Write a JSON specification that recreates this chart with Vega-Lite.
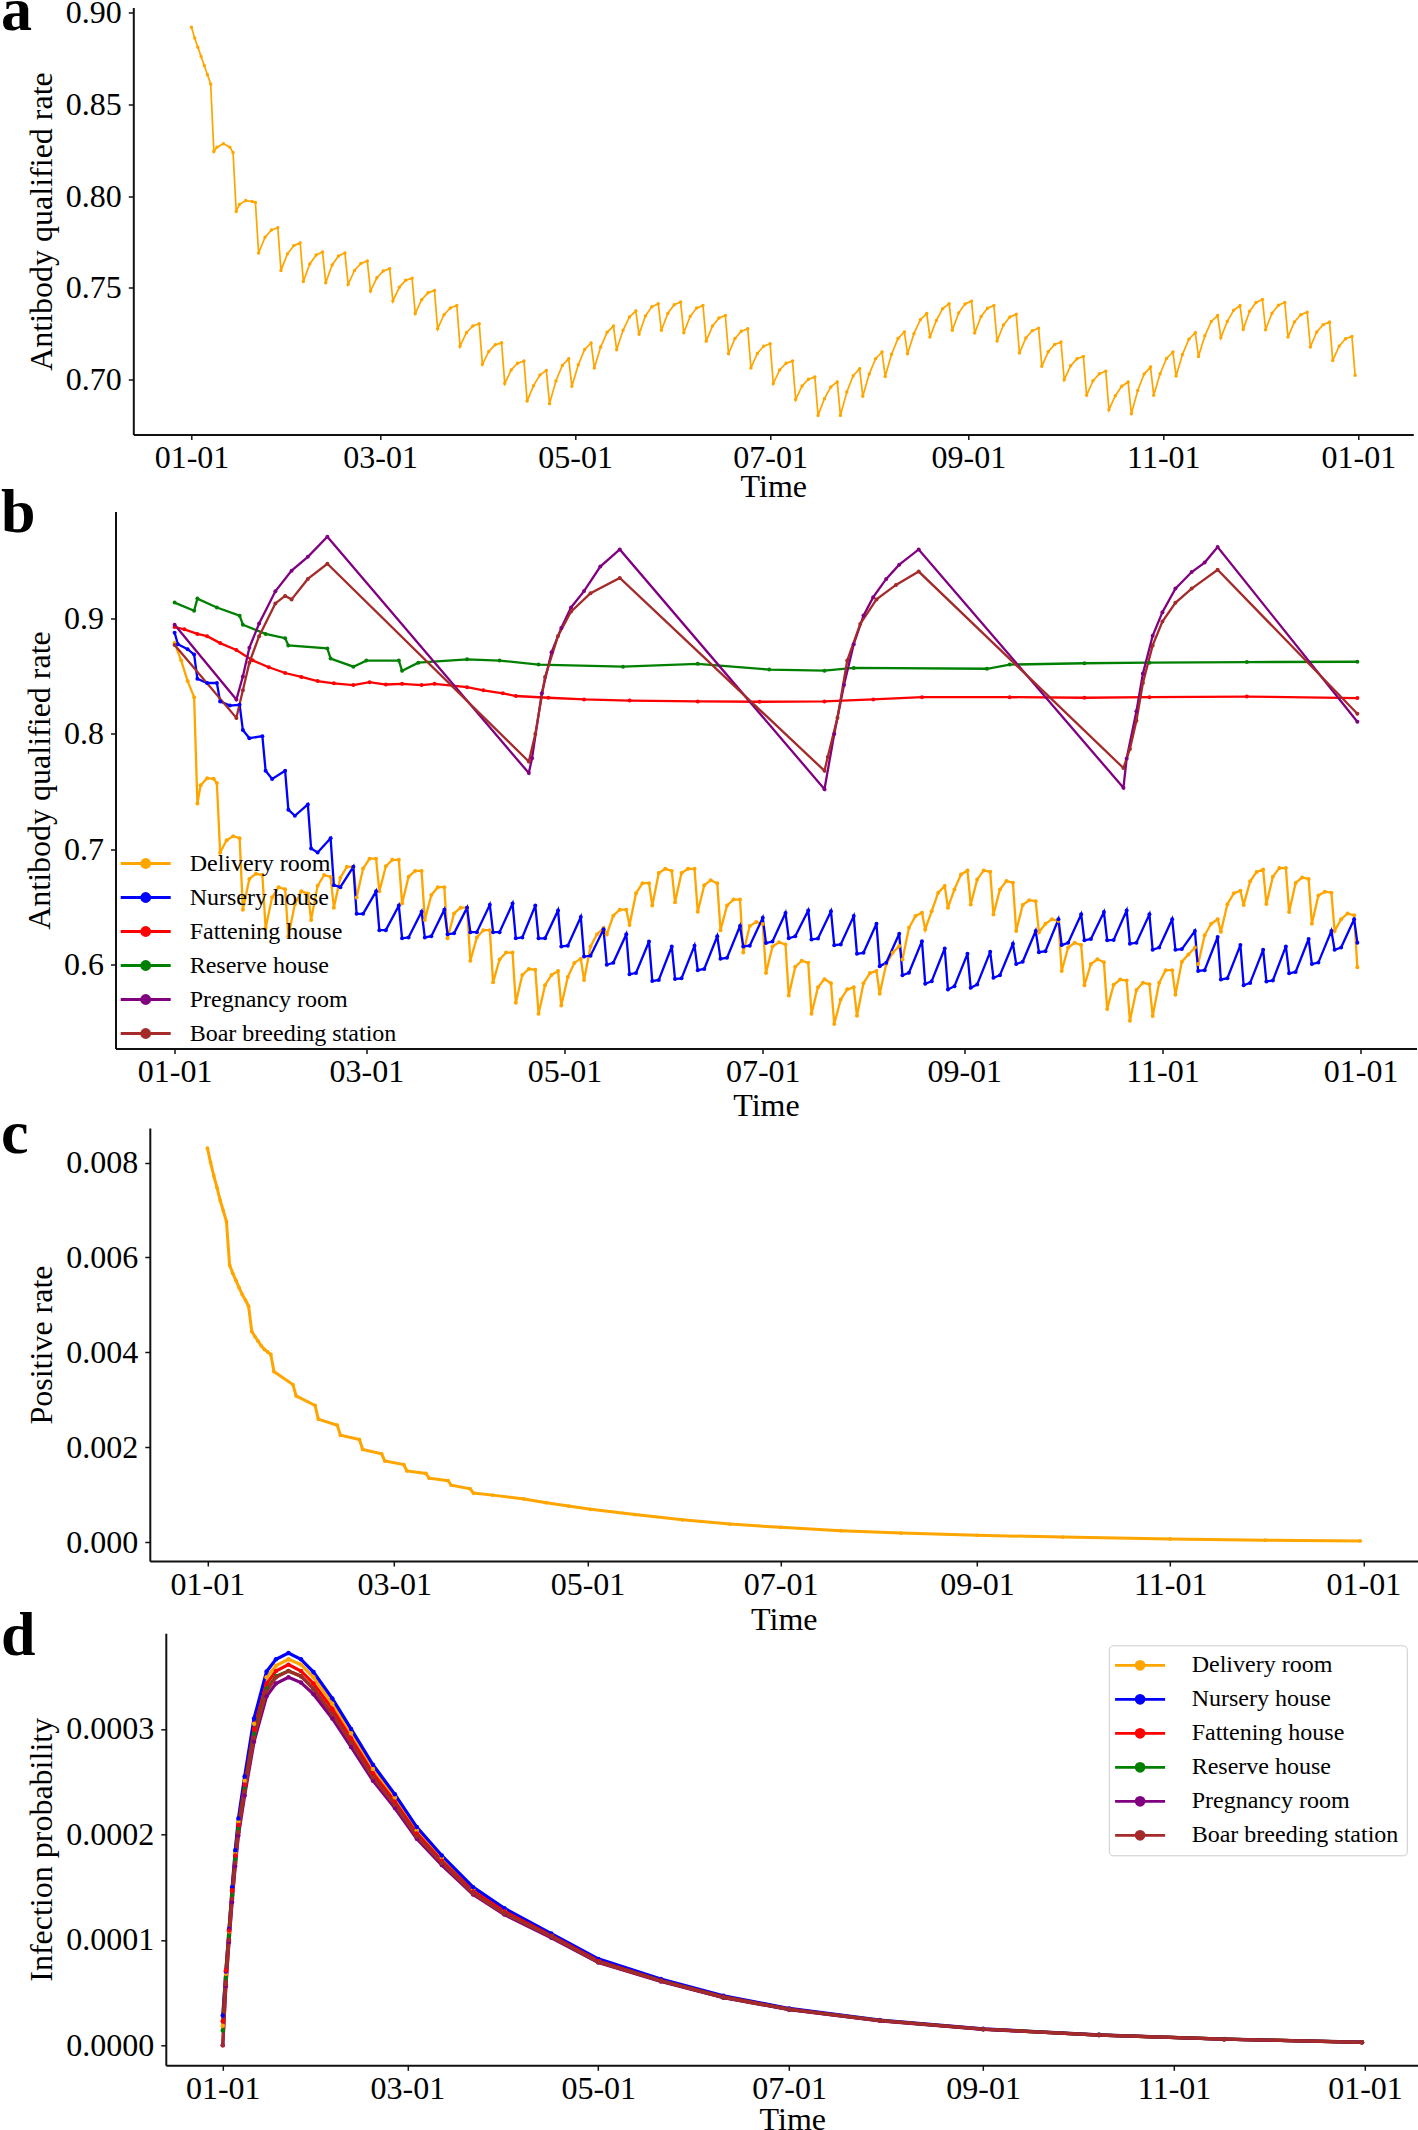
{
"$schema":"https://vega.github.io/schema/vega-lite/v6.json",
"padding":{"left":0,"top":-20.5,"right":0,"bottom":0},
"background":"white",
"config":{
"font":"Liberation Serif",
"view":{"stroke":null},
"axis":{"labelFont":"Liberation Serif","titleFont":"Liberation Serif","labelFontSize":32,"titleFontSize":32,"titleFontWeight":"normal","labelColor":"#000","titleColor":"#000","domainColor":"#111","domainWidth":2,"tickColor":"#111","tickWidth":1.5,"tickSize":5,"grid":false},
"axisX":{"labelPadding":3,"labelAngle":0,"labelFlush":false,"labelOverlap":false},
"axisY":{"labelPadding":7,"titlePadding":7}
},
"datasets":{
"a":[{"t":0,"v":0.8918},{"t":1,"v":0.886},{"t":2,"v":0.881},{"t":3,"v":0.876},{"t":4,"v":0.871},{"t":5,"v":0.866},{"t":6,"v":0.861},
{"t":7,"v":0.8242},{"t":8,"v":0.8266},{"t":10,"v":0.8284},{"t":12,"v":0.8266},{"t":13,"v":0.8237},
{"t":14,"v":0.7916},{"t":15,"v":0.7954},{"t":17,"v":0.7975},{"t":19,"v":0.797},{"t":20,"v":0.7965},
{"t":21,"v":0.769},{"t":23,"v":0.7775},{"t":25,"v":0.7815},{"t":27,"v":0.7828},
{"t":28,"v":0.7595},{"t":30,"v":0.7685},{"t":32,"v":0.773},{"t":34,"v":0.7745},
{"t":35,"v":0.7535},{"t":37,"v":0.763},{"t":39,"v":0.7679},{"t":41,"v":0.7695},
{"t":42,"v":0.7528},{"t":44,"v":0.7625},{"t":46,"v":0.7674},{"t":48,"v":0.769},
{"t":49,"v":0.7519},{"t":51,"v":0.7595},{"t":53,"v":0.7633},{"t":55,"v":0.7646},
{"t":56,"v":0.7483},{"t":58,"v":0.7555},{"t":60,"v":0.7592},{"t":62,"v":0.7604},
{"t":63,"v":0.7428},{"t":65,"v":0.7503},{"t":67,"v":0.7541},{"t":69,"v":0.7553},
{"t":70,"v":0.736},{"t":72,"v":0.7436},{"t":74,"v":0.7473},{"t":76,"v":0.7486},
{"t":77,"v":0.7278},{"t":79,"v":0.7354},{"t":81,"v":0.7391},{"t":83,"v":0.7404},
{"t":84,"v":0.7182},{"t":86,"v":0.7256},{"t":88,"v":0.7293},{"t":90,"v":0.7305},
{"t":91,"v":0.7084},{"t":93,"v":0.7154},{"t":95,"v":0.719},{"t":97,"v":0.7201},
{"t":98,"v":0.6979},{"t":100,"v":0.7053},{"t":102,"v":0.709},{"t":104,"v":0.7102},
{"t":105,"v":0.6884},{"t":107,"v":0.6968},{"t":109,"v":0.7026},{"t":111,"v":0.7051},
{"t":112,"v":0.687},{"t":114,"v":0.6993},{"t":116,"v":0.7078},{"t":118,"v":0.7115},
{"t":119,"v":0.6964},{"t":121,"v":0.7082},{"t":123,"v":0.7165},{"t":125,"v":0.72},
{"t":126,"v":0.7064},{"t":128,"v":0.7178},{"t":130,"v":0.7258},{"t":132,"v":0.7292},
{"t":133,"v":0.7163},{"t":135,"v":0.7269},{"t":137,"v":0.7342},{"t":139,"v":0.7374},
{"t":140,"v":0.7247},{"t":142,"v":0.7347},{"t":144,"v":0.7397},{"t":146,"v":0.7414},
{"t":147,"v":0.7269},{"t":149,"v":0.7361},{"t":151,"v":0.7408},{"t":153,"v":0.7423},
{"t":154,"v":0.7256},{"t":156,"v":0.7345},{"t":158,"v":0.739},{"t":160,"v":0.7404},
{"t":161,"v":0.7209},{"t":163,"v":0.7293},{"t":165,"v":0.7336},{"t":167,"v":0.735},
{"t":168,"v":0.7142},{"t":170,"v":0.7224},{"t":172,"v":0.7264},{"t":174,"v":0.7278},
{"t":175,"v":0.7064},{"t":177,"v":0.7143},{"t":179,"v":0.7183},{"t":181,"v":0.7196},
{"t":182,"v":0.6979},{"t":184,"v":0.7053},{"t":186,"v":0.709},{"t":188,"v":0.7102},
{"t":189,"v":0.6892},{"t":191,"v":0.6966},{"t":193,"v":0.7003},{"t":195,"v":0.7015},
{"t":196,"v":0.6806},{"t":198,"v":0.6897},{"t":200,"v":0.6961},{"t":202,"v":0.6988},
{"t":203,"v":0.6806},{"t":205,"v":0.6933},{"t":207,"v":0.7022},{"t":209,"v":0.706},
{"t":210,"v":0.691},{"t":212,"v":0.7031},{"t":214,"v":0.7115},{"t":216,"v":0.7151},
{"t":217,"v":0.7018},{"t":219,"v":0.7139},{"t":221,"v":0.7224},{"t":223,"v":0.726},
{"t":224,"v":0.7142},{"t":226,"v":0.7251},{"t":228,"v":0.7327},{"t":230,"v":0.736},
{"t":231,"v":0.7232},{"t":233,"v":0.7323},{"t":235,"v":0.7387},{"t":237,"v":0.7414},
{"t":238,"v":0.7269},{"t":240,"v":0.7364},{"t":242,"v":0.7412},{"t":244,"v":0.7428},
{"t":245,"v":0.7254},{"t":247,"v":0.7344},{"t":249,"v":0.7389},{"t":251,"v":0.7404},
{"t":252,"v":0.7211},{"t":254,"v":0.7298},{"t":256,"v":0.7342},{"t":258,"v":0.7356},
{"t":259,"v":0.7145},{"t":261,"v":0.7227},{"t":263,"v":0.7267},{"t":265,"v":0.7281},
{"t":266,"v":0.7073},{"t":268,"v":0.7152},{"t":270,"v":0.7192},{"t":272,"v":0.7205},
{"t":273,"v":0.70},{"t":275,"v":0.7076},{"t":277,"v":0.7114},{"t":279,"v":0.7127},
{"t":280,"v":0.6915},{"t":282,"v":0.6994},{"t":284,"v":0.7033},{"t":286,"v":0.7046},
{"t":287,"v":0.6837},{"t":289,"v":0.6913},{"t":291,"v":0.6965},{"t":293,"v":0.6988},
{"t":294,"v":0.6815},{"t":296,"v":0.6942},{"t":298,"v":0.7031},{"t":300,"v":0.7069},
{"t":301,"v":0.6915},{"t":303,"v":0.7033},{"t":305,"v":0.7116},{"t":307,"v":0.7151},
{"t":308,"v":0.702},{"t":310,"v":0.7138},{"t":312,"v":0.7221},{"t":314,"v":0.7256},
{"t":315,"v":0.7127},{"t":317,"v":0.7239},{"t":319,"v":0.7317},{"t":321,"v":0.735},
{"t":322,"v":0.7229},{"t":324,"v":0.7317},{"t":326,"v":0.7378},{"t":328,"v":0.7404},
{"t":329,"v":0.7274},{"t":331,"v":0.7373},{"t":333,"v":0.7421},{"t":335,"v":0.7437},
{"t":336,"v":0.7272},{"t":338,"v":0.7362},{"t":340,"v":0.7406},{"t":342,"v":0.7421},
{"t":343,"v":0.7232},{"t":345,"v":0.7314},{"t":347,"v":0.7354},{"t":349,"v":0.7368},
{"t":350,"v":0.7178},{"t":352,"v":0.726},{"t":354,"v":0.73},{"t":356,"v":0.7314},
{"t":357,"v":0.7105},{"t":359,"v":0.7183},{"t":361,"v":0.7223},{"t":363,"v":0.7236},
{"t":364,"v":0.7024}],
"b":[
{"s":"D","t":0,"v":0.879},{"s":"D","t":2,"v":0.864},{"s":"D","t":4,"v":0.846},{"s":"D","t":6,"v":0.832},
{"s":"D","t":7,"v":0.7396},{"s":"D","t":8,"v":0.7555},{"s":"D","t":10,"v":0.7616},{"s":"D","t":12,"v":0.761},{"s":"D","t":13,"v":0.7573},
{"s":"D","t":14,"v":0.697},{"s":"D","t":16,"v":0.7076},{"s":"D","t":18,"v":0.7112},{"s":"D","t":20,"v":0.7094},
{"s":"D","t":21,"v":0.6473},{"s":"D","t":23,"v":0.674},{"s":"D","t":25,"v":0.6785},{"s":"D","t":27,"v":0.6774},
{"s":"D","t":28,"v":0.6313},{"s":"D","t":30,"v":0.658},{"s":"D","t":32,"v":0.6668},{"s":"D","t":34,"v":0.665},
{"s":"D","t":35,"v":0.6242},{"s":"D","t":37,"v":0.652},{"s":"D","t":39,"v":0.6632},{"s":"D","t":41,"v":0.6614},
{"s":"D","t":42,"v":0.6384},{"s":"D","t":44,"v":0.668},{"s":"D","t":46,"v":0.6774},{"s":"D","t":48,"v":0.6757},
{"s":"D","t":49,"v":0.649},{"s":"D","t":51,"v":0.675},{"s":"D","t":53,"v":0.6845},{"s":"D","t":55,"v":0.6845},
{"s":"D","t":56,"v":0.6579},{"s":"D","t":58,"v":0.683},{"s":"D","t":60,"v":0.6916},{"s":"D","t":62,"v":0.6916},
{"s":"D","t":63,"v":0.6632},{"s":"D","t":65,"v":0.685},{"s":"D","t":67,"v":0.6906},{"s":"D","t":69,"v":0.6906},
{"s":"D","t":70,"v":0.6526},{"s":"D","t":72,"v":0.676},{"s":"D","t":74,"v":0.681},{"s":"D","t":76,"v":0.681},
{"s":"D","t":77,"v":0.6384},{"s":"D","t":79,"v":0.66},{"s":"D","t":81,"v":0.6668},{"s":"D","t":83,"v":0.6668},
{"s":"D","t":84,"v":0.6224},{"s":"D","t":86,"v":0.644},{"s":"D","t":88,"v":0.649},{"s":"D","t":90,"v":0.649},
{"s":"D","t":91,"v":0.6029},{"s":"D","t":93,"v":0.623},{"s":"D","t":95,"v":0.6295},{"s":"D","t":97,"v":0.6295},
{"s":"D","t":98,"v":0.5841},{"s":"D","t":100,"v":0.604},{"s":"D","t":102,"v":0.61},{"s":"D","t":104,"v":0.61},
{"s":"D","t":105,"v":0.5663},{"s":"D","t":107,"v":0.5905},{"s":"D","t":109,"v":0.5958},{"s":"D","t":111,"v":0.595},
{"s":"D","t":112,"v":0.5568},{"s":"D","t":114,"v":0.5816},{"s":"D","t":116,"v":0.5905},{"s":"D","t":118,"v":0.594},
{"s":"D","t":119,"v":0.5639},{"s":"D","t":121,"v":0.5887},{"s":"D","t":123,"v":0.601},{"s":"D","t":125,"v":0.6047},
{"s":"D","t":126,"v":0.5862},{"s":"D","t":128,"v":0.6153},{"s":"D","t":130,"v":0.6259},{"s":"D","t":132,"v":0.6313},
{"s":"D","t":133,"v":0.6259},{"s":"D","t":135,"v":0.642},{"s":"D","t":137,"v":0.6473},{"s":"D","t":139,"v":0.6473},
{"s":"D","t":140,"v":0.634},{"s":"D","t":142,"v":0.6615},{"s":"D","t":144,"v":0.6703},{"s":"D","t":146,"v":0.6703},
{"s":"D","t":147,"v":0.6508},{"s":"D","t":149,"v":0.6792},{"s":"D","t":151,"v":0.6828},{"s":"D","t":153,"v":0.681},
{"s":"D","t":154,"v":0.6537},{"s":"D","t":156,"v":0.6792},{"s":"D","t":158,"v":0.6828},{"s":"D","t":160,"v":0.6828},
{"s":"D","t":161,"v":0.6455},{"s":"D","t":163,"v":0.6686},{"s":"D","t":165,"v":0.6728},{"s":"D","t":167,"v":0.6703},
{"s":"D","t":168,"v":0.6295},{"s":"D","t":170,"v":0.6508},{"s":"D","t":172,"v":0.6561},{"s":"D","t":174,"v":0.6561},
{"s":"D","t":175,"v":0.61},{"s":"D","t":177,"v":0.633},{"s":"D","t":179,"v":0.6366},{"s":"D","t":181,"v":0.6348},
{"s":"D","t":182,"v":0.5922},{"s":"D","t":184,"v":0.6153},{"s":"D","t":186,"v":0.6189},{"s":"D","t":188,"v":0.6171},
{"s":"D","t":189,"v":0.5727},{"s":"D","t":191,"v":0.5976},{"s":"D","t":193,"v":0.6029},{"s":"D","t":195,"v":0.6011},
{"s":"D","t":196,"v":0.5568},{"s":"D","t":198,"v":0.5798},{"s":"D","t":200,"v":0.5869},{"s":"D","t":202,"v":0.5834},
{"s":"D","t":203,"v":0.5479},{"s":"D","t":205,"v":0.5692},{"s":"D","t":207,"v":0.578},{"s":"D","t":209,"v":0.5798},
{"s":"D","t":210,"v":0.555},{"s":"D","t":212,"v":0.5834},{"s":"D","t":214,"v":0.5922},{"s":"D","t":216,"v":0.594},
{"s":"D","t":217,"v":0.5741},{"s":"D","t":219,"v":0.6},{"s":"D","t":221,"v":0.6098},{"s":"D","t":223,"v":0.6156},
{"s":"D","t":224,"v":0.604},{"s":"D","t":226,"v":0.6315},{"s":"D","t":228,"v":0.6417},{"s":"D","t":230,"v":0.6446},
{"s":"D","t":231,"v":0.6301},{"s":"D","t":233,"v":0.646},{"s":"D","t":235,"v":0.662},{"s":"D","t":237,"v":0.6678},
{"s":"D","t":238,"v":0.649},{"s":"D","t":240,"v":0.6649},{"s":"D","t":242,"v":0.6779},{"s":"D","t":244,"v":0.6814},
{"s":"D","t":245,"v":0.6518},{"s":"D","t":247,"v":0.6736},{"s":"D","t":249,"v":0.6814},{"s":"D","t":251,"v":0.6802},
{"s":"D","t":252,"v":0.6431},{"s":"D","t":254,"v":0.6649},{"s":"D","t":256,"v":0.6721},{"s":"D","t":258,"v":0.6707},
{"s":"D","t":259,"v":0.6288},{"s":"D","t":261,"v":0.6514},{"s":"D","t":263,"v":0.6555},{"s":"D","t":265,"v":0.6547},
{"s":"D","t":266,"v":0.6276},{"s":"D","t":268,"v":0.635},{"s":"D","t":270,"v":0.639},{"s":"D","t":272,"v":0.6375},
{"s":"D","t":273,"v":0.594},{"s":"D","t":275,"v":0.6144},{"s":"D","t":277,"v":0.6185},{"s":"D","t":279,"v":0.6165},
{"s":"D","t":280,"v":0.5816},{"s":"D","t":282,"v":0.6001},{"s":"D","t":284,"v":0.6042},{"s":"D","t":286,"v":0.6015},
{"s":"D","t":287,"v":0.561},{"s":"D","t":289,"v":0.582},{"s":"D","t":291,"v":0.5865},{"s":"D","t":293,"v":0.5857},
{"s":"D","t":294,"v":0.5508},{"s":"D","t":296,"v":0.5775},{"s":"D","t":298,"v":0.5837},{"s":"D","t":300,"v":0.5825},
{"s":"D","t":301,"v":0.5549},{"s":"D","t":303,"v":0.5837},{"s":"D","t":305,"v":0.5947},{"s":"D","t":307,"v":0.5947},
{"s":"D","t":308,"v":0.5734},{"s":"D","t":310,"v":0.6021},{"s":"D","t":312,"v":0.6083},{"s":"D","t":314,"v":0.6144},
{"s":"D","t":315,"v":0.6},{"s":"D","t":317,"v":0.625},{"s":"D","t":319,"v":0.635},{"s":"D","t":321,"v":0.639},
{"s":"D","t":322,"v":0.628},{"s":"D","t":324,"v":0.652},{"s":"D","t":326,"v":0.6616},{"s":"D","t":328,"v":0.6637},
{"s":"D","t":329,"v":0.6514},{"s":"D","t":331,"v":0.672},{"s":"D","t":333,"v":0.6801},{"s":"D","t":335,"v":0.6822},
{"s":"D","t":336,"v":0.6522},{"s":"D","t":338,"v":0.676},{"s":"D","t":340,"v":0.6834},{"s":"D","t":342,"v":0.6834},
{"s":"D","t":343,"v":0.6452},{"s":"D","t":345,"v":0.6705},{"s":"D","t":347,"v":0.6752},{"s":"D","t":349,"v":0.674},
{"s":"D","t":350,"v":0.635},{"s":"D","t":352,"v":0.6596},{"s":"D","t":354,"v":0.6629},{"s":"D","t":356,"v":0.662},
{"s":"D","t":357,"v":0.6288},{"s":"D","t":359,"v":0.639},{"s":"D","t":361,"v":0.644},{"s":"D","t":363,"v":0.6424},
{"s":"D","t":364,"v":0.5972},
{"s":"N","t":0,"v":0.888},{"s":"N","t":1,"v":0.878},{"s":"N","t":4,"v":0.8737},{"s":"N","t":6,"v":0.869},
{"s":"N","t":7,"v":0.848},{"s":"N","t":10,"v":0.8443},{"s":"N","t":13,"v":0.8443},
{"s":"N","t":14,"v":0.8283},{"s":"N","t":17,"v":0.8247},{"s":"N","t":20,"v":0.8254},
{"s":"N","t":21,"v":0.8034},{"s":"N","t":23,"v":0.7963},{"s":"N","t":27,"v":0.7981},
{"s":"N","t":28,"v":0.768},{"s":"N","t":30,"v":0.7608},{"s":"N","t":34,"v":0.768},
{"s":"N","t":35,"v":0.7342},{"s":"N","t":37,"v":0.7289},{"s":"N","t":41,"v":0.7388},
{"s":"N","t":42,"v":0.7005},{"s":"N","t":44,"v":0.6969},{"s":"N","t":48,"v":0.7094},
{"s":"N","t":49,"v":0.6686},{"s":"N","t":51,"v":0.6668},{"s":"N","t":55,"v":0.6845},
{"s":"N","t":56,"v":0.6437},{"s":"N","t":58,"v":0.6437},{"s":"N","t":62,"v":0.6632},
{"s":"N","t":63,"v":0.6295},{"s":"N","t":65,"v":0.6295},{"s":"N","t":69,"v":0.6508},
{"s":"N","t":70,"v":0.6224},{"s":"N","t":72,"v":0.6231},{"s":"N","t":76,"v":0.6455},
{"s":"N","t":77,"v":0.6231},{"s":"N","t":79,"v":0.6242},{"s":"N","t":83,"v":0.6473},
{"s":"N","t":84,"v":0.6259},{"s":"N","t":86,"v":0.6267},{"s":"N","t":90,"v":0.649},
{"s":"N","t":91,"v":0.6277},{"s":"N","t":93,"v":0.6277},{"s":"N","t":97,"v":0.6515},
{"s":"N","t":98,"v":0.6277},{"s":"N","t":100,"v":0.6277},{"s":"N","t":104,"v":0.6526},
{"s":"N","t":105,"v":0.6224},{"s":"N","t":107,"v":0.6231},{"s":"N","t":111,"v":0.6508},
{"s":"N","t":112,"v":0.6224},{"s":"N","t":114,"v":0.6224},{"s":"N","t":118,"v":0.6466},
{"s":"N","t":119,"v":0.6153},{"s":"N","t":121,"v":0.616},{"s":"N","t":125,"v":0.6409},
{"s":"N","t":126,"v":0.6065},{"s":"N","t":128,"v":0.6072},{"s":"N","t":132,"v":0.6302},
{"s":"N","t":133,"v":0.5994},{"s":"N","t":135,"v":0.6011},{"s":"N","t":139,"v":0.626},
{"s":"N","t":140,"v":0.5912},{"s":"N","t":142,"v":0.5922},{"s":"N","t":146,"v":0.6196},
{"s":"N","t":147,"v":0.5852},{"s":"N","t":149,"v":0.5862},{"s":"N","t":153,"v":0.6153},
{"s":"N","t":154,"v":0.587},{"s":"N","t":156,"v":0.5876},{"s":"N","t":160,"v":0.616},
{"s":"N","t":161,"v":0.5947},{"s":"N","t":163,"v":0.5958},{"s":"N","t":167,"v":0.6242},
{"s":"N","t":168,"v":0.6047},{"s":"N","t":170,"v":0.6054},{"s":"N","t":174,"v":0.633},
{"s":"N","t":175,"v":0.6153},{"s":"N","t":177,"v":0.616},{"s":"N","t":181,"v":0.6402},
{"s":"N","t":182,"v":0.6182},{"s":"N","t":184,"v":0.6196},{"s":"N","t":188,"v":0.6444},
{"s":"N","t":189,"v":0.6224},{"s":"N","t":191,"v":0.6242},{"s":"N","t":195,"v":0.6466},
{"s":"N","t":196,"v":0.6214},{"s":"N","t":198,"v":0.6222},{"s":"N","t":202,"v":0.646},
{"s":"N","t":203,"v":0.6164},{"s":"N","t":205,"v":0.617},{"s":"N","t":209,"v":0.6417},
{"s":"N","t":210,"v":0.6089},{"s":"N","t":212,"v":0.6098},{"s":"N","t":216,"v":0.635},
{"s":"N","t":217,"v":0.5982},{"s":"N","t":219,"v":0.6011},{"s":"N","t":223,"v":0.6263},
{"s":"N","t":224,"v":0.5903},{"s":"N","t":226,"v":0.5924},{"s":"N","t":230,"v":0.6199},
{"s":"N","t":231,"v":0.5828},{"s":"N","t":233,"v":0.5851},{"s":"N","t":237,"v":0.6135},
{"s":"N","t":238,"v":0.5779},{"s":"N","t":240,"v":0.5808},{"s":"N","t":244,"v":0.6089},
{"s":"N","t":245,"v":0.5793},{"s":"N","t":247,"v":0.5822},{"s":"N","t":251,"v":0.6106},
{"s":"N","t":252,"v":0.588},{"s":"N","t":254,"v":0.5903},{"s":"N","t":258,"v":0.6176},
{"s":"N","t":259,"v":0.6},{"s":"N","t":261,"v":0.602},{"s":"N","t":265,"v":0.6288},
{"s":"N","t":266,"v":0.6103},{"s":"N","t":268,"v":0.6112},{"s":"N","t":272,"v":0.639},
{"s":"N","t":273,"v":0.6165},{"s":"N","t":275,"v":0.6185},{"s":"N","t":279,"v":0.6432},
{"s":"N","t":280,"v":0.6206},{"s":"N","t":282,"v":0.6218},{"s":"N","t":286,"v":0.6452},
{"s":"N","t":287,"v":0.6206},{"s":"N","t":289,"v":0.621},{"s":"N","t":293,"v":0.6465},
{"s":"N","t":294,"v":0.6177},{"s":"N","t":296,"v":0.6185},{"s":"N","t":300,"v":0.6432},
{"s":"N","t":301,"v":0.6124},{"s":"N","t":303,"v":0.6144},{"s":"N","t":307,"v":0.639},
{"s":"N","t":308,"v":0.6124},{"s":"N","t":310,"v":0.613},{"s":"N","t":314,"v":0.6288},
{"s":"N","t":315,"v":0.594},{"s":"N","t":317,"v":0.5947},{"s":"N","t":321,"v":0.6235},
{"s":"N","t":322,"v":0.5865},{"s":"N","t":324,"v":0.5877},{"s":"N","t":328,"v":0.6165},
{"s":"N","t":329,"v":0.5816},{"s":"N","t":331,"v":0.5836},{"s":"N","t":335,"v":0.6124},
{"s":"N","t":336,"v":0.5849},{"s":"N","t":338,"v":0.5857},{"s":"N","t":342,"v":0.6153},
{"s":"N","t":343,"v":0.592},{"s":"N","t":345,"v":0.5931},{"s":"N","t":349,"v":0.6218},
{"s":"N","t":350,"v":0.6},{"s":"N","t":352,"v":0.6013},{"s":"N","t":356,"v":0.6288},
{"s":"N","t":357,"v":0.6124},{"s":"N","t":359,"v":0.6144},{"s":"N","t":363,"v":0.639},
{"s":"N","t":364,"v":0.6186},
{"s":"F","t":0,"v":0.893},{"s":"F","t":3,"v":0.891},{"s":"F","t":7,"v":0.887},{"s":"F","t":10,"v":0.885},{"s":"F","t":14,"v":0.879},{"s":"F","t":19,"v":0.873},{"s":"F","t":24,"v":0.864},{"s":"F","t":29,"v":0.858},{"s":"F","t":34,"v":0.853},{"s":"F","t":39,"v":0.8496},{"s":"F","t":44,"v":0.846},{"s":"F","t":49,"v":0.844},{"s":"F","t":55,"v":0.8425},{"s":"F","t":60,"v":0.845},{"s":"F","t":65,"v":0.843},{"s":"F","t":70,"v":0.8436},{"s":"F","t":76,"v":0.8425},{"s":"F","t":80,"v":0.8436},{"s":"F","t":90,"v":0.8407},{"s":"F","t":95,"v":0.838},{"s":"F","t":101,"v":0.8354},{"s":"F","t":105,"v":0.833},{"s":"F","t":115,"v":0.8315},{"s":"F","t":126,"v":0.83},{"s":"F","t":140,"v":0.829},{"s":"F","t":161,"v":0.8283},{"s":"F","t":180,"v":0.828},{"s":"F","t":200,"v":0.8283},{"s":"F","t":215,"v":0.83},{"s":"F","t":230,"v":0.832},{"s":"F","t":257,"v":0.832},{"s":"F","t":280,"v":0.8315},{"s":"F","t":300,"v":0.832},{"s":"F","t":330,"v":0.8325},{"s":"F","t":364,"v":0.8312},
{"s":"R","t":0,"v":0.9142},{"s":"R","t":6,"v":0.9071},{"s":"R","t":7,"v":0.9177},{"s":"R","t":13,"v":0.9099},{"s":"R","t":20,"v":0.9028},{"s":"R","t":21,"v":0.895},{"s":"R","t":28,"v":0.887},{"s":"R","t":34,"v":0.8833},{"s":"R","t":35,"v":0.8769},{"s":"R","t":47,"v":0.8744},{"s":"R","t":48,"v":0.8656},{"s":"R","t":55,"v":0.8585},{"s":"R","t":59,"v":0.8638},{"s":"R","t":69,"v":0.8638},{"s":"R","t":70,"v":0.8549},{"s":"R","t":75,"v":0.862},{"s":"R","t":90,"v":0.8649},{"s":"R","t":100,"v":0.8638},{"s":"R","t":112,"v":0.8603},{"s":"R","t":138,"v":0.8585},{"s":"R","t":161,"v":0.861},{"s":"R","t":183,"v":0.856},{"s":"R","t":200,"v":0.855},{"s":"R","t":209,"v":0.8574},{"s":"R","t":250,"v":0.8567},{"s":"R","t":257,"v":0.8603},{"s":"R","t":280,"v":0.8615},{"s":"R","t":300,"v":0.862},{"s":"R","t":330,"v":0.8625},{"s":"R","t":364,"v":0.8628},
{"s":"P","t":0,"v":0.895},{"s":"P","t":19,"v":0.83},{"s":"P","t":21,"v":0.85},{"s":"P","t":23,"v":0.875},{"s":"P","t":26,"v":0.896},{"s":"P","t":31,"v":0.924},{"s":"P","t":36,"v":0.942},{"s":"P","t":41,"v":0.954},{"s":"P","t":47,"v":0.9714},{"s":"P","t":109,"v":0.766},{"s":"P","t":110,"v":0.779},{"s":"P","t":113,"v":0.8355},{"s":"P","t":116,"v":0.871},{"s":"P","t":119,"v":0.8922},{"s":"P","t":122,"v":0.91},{"s":"P","t":126,"v":0.9242},{"s":"P","t":131,"v":0.9455},{"s":"P","t":137,"v":0.9604},{"s":"P","t":200,"v":0.752},{"s":"P","t":203,"v":0.8},{"s":"P","t":206,"v":0.8426},{"s":"P","t":209,"v":0.878},{"s":"P","t":212,"v":0.9029},{"s":"P","t":215,"v":0.9189},{"s":"P","t":219,"v":0.9348},{"s":"P","t":223,"v":0.9472},{"s":"P","t":229,"v":0.9604},{"s":"P","t":292,"v":0.7532},{"s":"P","t":293,"v":0.7787},{"s":"P","t":296,"v":0.8197},{"s":"P","t":298,"v":0.8525},{"s":"P","t":301,"v":0.8854},{"s":"P","t":304,"v":0.9059},{"s":"P","t":308,"v":0.9264},{"s":"P","t":313,"v":0.9408},{"s":"P","t":317,"v":0.949},{"s":"P","t":321,"v":0.9625},{"s":"P","t":364,"v":0.8107},
{"s":"B","t":0,"v":0.8773},{"s":"B","t":19,"v":0.814},{"s":"B","t":21,"v":0.838},{"s":"B","t":23,"v":0.862},{"s":"B","t":26,"v":0.885},{"s":"B","t":31,"v":0.9135},{"s":"B","t":34,"v":0.92},{"s":"B","t":36,"v":0.917},{"s":"B","t":41,"v":0.9348},{"s":"B","t":47,"v":0.948},{"s":"B","t":109,"v":0.776},{"s":"B","t":111,"v":0.8},{"s":"B","t":114,"v":0.8495},{"s":"B","t":118,"v":0.8852},{"s":"B","t":122,"v":0.9064},{"s":"B","t":128,"v":0.9224},{"s":"B","t":137,"v":0.9356},{"s":"B","t":200,"v":0.768},{"s":"B","t":201,"v":0.78},{"s":"B","t":204,"v":0.8142},{"s":"B","t":207,"v":0.8638},{"s":"B","t":211,"v":0.8957},{"s":"B","t":216,"v":0.917},{"s":"B","t":222,"v":0.9296},{"s":"B","t":229,"v":0.9412},{"s":"B","t":292,"v":0.7704},{"s":"B","t":294,"v":0.787},{"s":"B","t":296,"v":0.8115},{"s":"B","t":298,"v":0.8443},{"s":"B","t":301,"v":0.877},{"s":"B","t":304,"v":0.8977},{"s":"B","t":308,"v":0.914},{"s":"B","t":313,"v":0.9264},{"s":"B","t":321,"v":0.9428},{"s":"B","t":364,"v":0.8176}],
"c":[{"t":0,"v":0.008305},{"t":1,"v":0.008},{"t":2,"v":0.007725},{"t":3,"v":0.007476},{"t":4,"v":0.007212},{"t":5,"v":0.006986},{"t":6,"v":0.00676},{"t":7,"v":0.00584},{"t":8,"v":0.005667},{"t":9,"v":0.005516},{"t":10,"v":0.005366},{"t":11,"v":0.005216},{"t":12,"v":0.005102},{"t":13,"v":0.004973},{"t":14,"v":0.004439},{"t":15,"v":0.004334},{"t":16,"v":0.004235},{"t":17,"v":0.004138},{"t":18,"v":0.004062},{"t":19,"v":0.004009},{"t":20,"v":0.003956},{"t":21,"v":0.003595},{"t":27,"v":0.00332},{"t":28,"v":0.003083},{"t":34,"v":0.00288},{"t":35,"v":0.002593},{"t":41,"v":0.002464},{"t":42,"v":0.002253},{"t":48,"v":0.002163},{"t":49,"v":0.001952},{"t":55,"v":0.001861},{"t":56,"v":0.001711},{"t":62,"v":0.001635},{"t":63,"v":0.0015},{"t":69,"v":0.001447},{"t":70,"v":0.001348},{"t":76,"v":0.001295},{"t":77,"v":0.001198},{"t":83,"v":0.001123},{"t":84,"v":0.001034},{"t":90,"v":0.00099},{"t":100,"v":0.00091},{"t":107,"v":0.00083},{"t":114,"v":0.00076},{"t":121,"v":0.00069},{"t":135,"v":0.00058},{"t":150,"v":0.00047},{"t":165,"v":0.00038},{"t":181,"v":0.00031},{"t":200,"v":0.00024},{"t":219,"v":0.00019},{"t":243,"v":0.000143},{"t":270,"v":0.000105},{"t":304,"v":0.000066},{"t":334,"v":0.00004},{"t":364,"v":0.000023}],
"d":[
{"s":"D","t":0,"v":1.86e-5},{"s":"D","t":1,"v":6.8e-5},{"s":"D","t":2,"v":1.08e-4},{"s":"D","t":3,"v":1.48e-4},{"s":"D","t":4,"v":1.82e-4},{"s":"D","t":5,"v":2.12e-4},{"s":"D","t":7,"v":2.51e-4},{"s":"D","t":10,"v":3.05e-4},{"s":"D","t":14,"v":3.49e-4},{"s":"D","t":17,"v":3.6e-4},{"s":"D","t":21,"v":3.66e-4},{"s":"D","t":25,"v":3.61e-4},{"s":"D","t":29,"v":3.49e-4},{"s":"D","t":35,"v":3.24e-4},{"s":"D","t":41,"v":2.96e-4},{"s":"D","t":48,"v":2.62e-4},{"s":"D","t":55,"v":2.35e-4},{"s":"D","t":62,"v":2.04e-4},{"s":"D","t":70,"v":1.78e-4},{"s":"D","t":80,"v":1.48e-4},{"s":"D","t":90,"v":1.28e-4},{"s":"D","t":105,"v":1.05e-4},{"s":"D","t":120,"v":8.1e-5},{"s":"D","t":140,"v":6.2e-5},{"s":"D","t":160,"v":4.65e-5},{"s":"D","t":181,"v":3.47e-5},{"s":"D","t":210,"v":2.38e-5},{"s":"D","t":243,"v":1.55e-5},{"s":"D","t":280,"v":9.9e-6},{"s":"D","t":320,"v":5.9e-6},{"s":"D","t":364,"v":3.0e-6},
{"s":"N","t":0,"v":2.83e-5},{"s":"N","t":1,"v":7.0e-5},{"s":"N","t":2,"v":1.1e-4},{"s":"N","t":3,"v":1.5e-4},{"s":"N","t":4,"v":1.85e-4},{"s":"N","t":5,"v":2.15e-4},{"s":"N","t":7,"v":2.55e-4},{"s":"N","t":10,"v":3.1e-4},{"s":"N","t":14,"v":3.545e-4},{"s":"N","t":17,"v":3.66e-4},{"s":"N","t":21,"v":3.72e-4},{"s":"N","t":25,"v":3.66e-4},{"s":"N","t":29,"v":3.54e-4},{"s":"N","t":35,"v":3.29e-4},{"s":"N","t":41,"v":3.0e-4},{"s":"N","t":48,"v":2.66e-4},{"s":"N","t":55,"v":2.38e-4},{"s":"N","t":62,"v":2.07e-4},{"s":"N","t":70,"v":1.8e-4},{"s":"N","t":80,"v":1.5e-4},{"s":"N","t":90,"v":1.3e-4},{"s":"N","t":105,"v":1.06e-4},{"s":"N","t":120,"v":8.2e-5},{"s":"N","t":140,"v":6.3e-5},{"s":"N","t":160,"v":4.7e-5},{"s":"N","t":181,"v":3.5e-5},{"s":"N","t":210,"v":2.4e-5},{"s":"N","t":243,"v":1.57e-5},{"s":"N","t":280,"v":1.0e-5},{"s":"N","t":320,"v":6.0e-6},{"s":"N","t":364,"v":3.0e-6},
{"s":"F","t":0,"v":2.28e-5},{"s":"F","t":1,"v":7.1e-5},{"s":"F","t":2,"v":1.09e-4},{"s":"F","t":3,"v":1.47e-4},{"s":"F","t":4,"v":1.8e-4},{"s":"F","t":5,"v":2.09e-4},{"s":"F","t":7,"v":2.47e-4},{"s":"F","t":10,"v":3.0e-4},{"s":"F","t":14,"v":3.43e-4},{"s":"F","t":17,"v":3.55e-4},{"s":"F","t":21,"v":3.61e-4},{"s":"F","t":25,"v":3.55e-4},{"s":"F","t":29,"v":3.43e-4},{"s":"F","t":35,"v":3.19e-4},{"s":"F","t":41,"v":2.91e-4},{"s":"F","t":48,"v":2.58e-4},{"s":"F","t":55,"v":2.31e-4},{"s":"F","t":62,"v":2.01e-4},{"s":"F","t":70,"v":1.75e-4},{"s":"F","t":80,"v":1.46e-4},{"s":"F","t":90,"v":1.27e-4},{"s":"F","t":105,"v":1.04e-4},{"s":"F","t":120,"v":8.0e-5},{"s":"F","t":140,"v":6.15e-5},{"s":"F","t":160,"v":4.6e-5},{"s":"F","t":181,"v":3.43e-5},{"s":"F","t":210,"v":2.36e-5},{"s":"F","t":243,"v":1.54e-5},{"s":"F","t":280,"v":9.8e-6},{"s":"F","t":320,"v":5.9e-6},{"s":"F","t":364,"v":2.9e-6},
{"s":"R","t":0,"v":1.41e-5},{"s":"R","t":1,"v":6.4e-5},{"s":"R","t":2,"v":1.04e-4},{"s":"R","t":3,"v":1.42e-4},{"s":"R","t":4,"v":1.76e-4},{"s":"R","t":5,"v":2.05e-4},{"s":"R","t":7,"v":2.43e-4},{"s":"R","t":10,"v":2.95e-4},{"s":"R","t":14,"v":3.38e-4},{"s":"R","t":17,"v":3.5e-4},{"s":"R","t":21,"v":3.55e-4},{"s":"R","t":25,"v":3.5e-4},{"s":"R","t":29,"v":3.38e-4},{"s":"R","t":35,"v":3.14e-4},{"s":"R","t":41,"v":2.87e-4},{"s":"R","t":48,"v":2.54e-4},{"s":"R","t":55,"v":2.28e-4},{"s":"R","t":62,"v":1.98e-4},{"s":"R","t":70,"v":1.73e-4},{"s":"R","t":80,"v":1.44e-4},{"s":"R","t":90,"v":1.25e-4},{"s":"R","t":105,"v":1.03e-4},{"s":"R","t":120,"v":7.9e-5},{"s":"R","t":140,"v":6.1e-5},{"s":"R","t":160,"v":4.55e-5},{"s":"R","t":181,"v":3.4e-5},{"s":"R","t":210,"v":2.34e-5},{"s":"R","t":243,"v":1.53e-5},{"s":"R","t":280,"v":9.8e-6},{"s":"R","t":320,"v":5.9e-6},{"s":"R","t":364,"v":2.9e-6},
{"s":"P","t":0,"v":0},{"s":"P","t":1,"v":5.6e-5},{"s":"P","t":2,"v":9.8e-5},{"s":"P","t":3,"v":1.36e-4},{"s":"P","t":4,"v":1.7e-4},{"s":"P","t":5,"v":1.99e-4},{"s":"P","t":7,"v":2.37e-4},{"s":"P","t":10,"v":2.88e-4},{"s":"P","t":14,"v":3.31e-4},{"s":"P","t":17,"v":3.43e-4},{"s":"P","t":21,"v":3.49e-4},{"s":"P","t":25,"v":3.44e-4},{"s":"P","t":29,"v":3.33e-4},{"s":"P","t":35,"v":3.1e-4},{"s":"P","t":41,"v":2.83e-4},{"s":"P","t":48,"v":2.51e-4},{"s":"P","t":55,"v":2.25e-4},{"s":"P","t":62,"v":1.96e-4},{"s":"P","t":70,"v":1.71e-4},{"s":"P","t":80,"v":1.43e-4},{"s":"P","t":90,"v":1.24e-4},{"s":"P","t":105,"v":1.02e-4},{"s":"P","t":120,"v":7.85e-5},{"s":"P","t":140,"v":6.05e-5},{"s":"P","t":160,"v":4.52e-5},{"s":"P","t":181,"v":3.38e-5},{"s":"P","t":210,"v":2.33e-5},{"s":"P","t":243,"v":1.52e-5},{"s":"P","t":280,"v":9.7e-6},{"s":"P","t":320,"v":5.8e-6},{"s":"P","t":364,"v":2.9e-6},
{"s":"B","t":0,"v":0},{"s":"B","t":1,"v":5.8e-5},{"s":"B","t":2,"v":1.0e-4},{"s":"B","t":3,"v":1.39e-4},{"s":"B","t":4,"v":1.73e-4},{"s":"B","t":5,"v":2.02e-4},{"s":"B","t":7,"v":2.41e-4},{"s":"B","t":10,"v":2.92e-4},{"s":"B","t":14,"v":3.36e-4},{"s":"B","t":17,"v":3.49e-4},{"s":"B","t":21,"v":3.55e-4},{"s":"B","t":25,"v":3.5e-4},{"s":"B","t":29,"v":3.38e-4},{"s":"B","t":35,"v":3.14e-4},{"s":"B","t":41,"v":2.87e-4},{"s":"B","t":48,"v":2.54e-4},{"s":"B","t":55,"v":2.28e-4},{"s":"B","t":62,"v":1.98e-4},{"s":"B","t":70,"v":1.73e-4},{"s":"B","t":80,"v":1.44e-4},{"s":"B","t":90,"v":1.25e-4},{"s":"B","t":105,"v":1.03e-4},{"s":"B","t":120,"v":7.9e-5},{"s":"B","t":140,"v":6.1e-5},{"s":"B","t":160,"v":4.55e-5},{"s":"B","t":181,"v":3.4e-5},{"s":"B","t":210,"v":2.34e-5},{"s":"B","t":243,"v":1.53e-5},{"s":"B","t":280,"v":9.8e-6},{"s":"B","t":320,"v":5.9e-6},{"s":"B","t":364,"v":2.9e-6}],
"names":[{"s":"D","n":"Delivery room"},{"s":"N","n":"Nursery house"},{"s":"F","n":"Fattening house"},{"s":"R","n":"Reserve house"},{"s":"P","n":"Pregnancy room"},{"s":"B","n":"Boar breeding station"}]
},
"concat":[
{"concat":[
{"concat":[
{"width":2,"height":45,"data":{"values":[{"l":"a"}]},"mark":{"type":"text","align":"left","baseline":"alphabetic","font":"Liberation Serif","fontSize":62,"fontWeight":"bold","color":"#000"},"encoding":{"text":{"field":"l","type":"nominal"}}},
{"width":1280,"height":427,
"data":{"name":"a"},
"mark":{"type":"line","color":"#FFA500","strokeWidth":1.7,"point":{"filled":true,"size":12,"color":"#FFA500"}},
"encoding":{
"x":{"field":"t","type":"quantitative","scale":{"domain":[-18.2,382.2],"nice":false,"zero":false},"axis":{"values":[0,59,120,181,243,304,365],"labelExpr":"timeFormat(datetime(2021,0,1+datum.value),'%m-%d')","title":"Time","titlePadding":-2}},
"y":{"field":"v","type":"quantitative","scale":{"domain":[0.6702,0.9026],"nice":false,"zero":false},"axis":{"values":[0.7,0.75,0.8,0.85,0.9],"format":".2f","title":"Antibody qualified rate"}}}}
],"columns":2,"align":"none","spacing":-6.7,
"resolve":{"scale":{"x":"independent","y":"independent","color":"independent"},"legend":{"color":"independent"}}},
{"concat":[
{"width":2,"height":40.8,"data":{"values":[{"l":"b"}]},"mark":{"type":"text","align":"left","baseline":"alphabetic","font":"Liberation Serif","fontSize":62,"fontWeight":"bold","color":"#000"},"encoding":{"text":{"field":"l","type":"nominal"}}},
{"width":1301,"height":537,
"data":{"name":"b"},
"transform":[{"lookup":"s","from":{"data":{"name":"names"},"key":"s","fields":["n"]}}],
"mark":{"type":"line","strokeWidth":2.3,"point":{"filled":true,"size":16}},
"encoding":{
"x":{"field":"t","type":"quantitative","scale":{"domain":[-18.2,382.2],"nice":false,"zero":false},"axis":{"values":[0,59,120,181,243,304,365],"labelExpr":"timeFormat(datetime(2021,0,1+datum.value),'%m-%d')","title":"Time","titlePadding":3}},
"y":{"field":"v","type":"quantitative","scale":{"domain":[0.5266,0.9934],"nice":false,"zero":false},"axis":{"values":[0.6,0.7,0.8,0.9],"format":".1f","title":"Antibody qualified rate"}},
"color":{"field":"n","type":"nominal","scale":{"domain":["Delivery room","Nursery house","Fattening house","Reserve house","Pregnancy room","Boar breeding station"],"range":["#FFA500","#0000FF","#FF0000","#008000","#800080","#A52A2A"]},
"legend":{"title":null,"orient":"bottom-left","offset":3,"padding":0,"labelFont":"Liberation Serif","labelFontSize":24,"labelColor":"#000","labelLimit":500,"labelOffset":32,"symbolOffset":15.2,"rowPadding":10,"symbolType":"M-2.5,0H2.5M-0.4,0A0.4,0.4,0,1,1,0.4,0A0.4,0.4,0,1,1,-0.4,0","symbolSize":400,"symbolStrokeWidth":2.8,
"encode":{"symbols":{"update":{"fill":{"signal":"datum.value=='Delivery room'?'#FFA500':datum.value=='Nursery house'?'#0000FF':datum.value=='Fattening house'?'#FF0000':datum.value=='Reserve house'?'#008000':datum.value=='Pregnancy room'?'#800080':'#A52A2A'"},"stroke":{"signal":"datum.value=='Delivery room'?'#FFA500':datum.value=='Nursery house'?'#0000FF':datum.value=='Fattening house'?'#FF0000':datum.value=='Reserve house'?'#008000':datum.value=='Pregnancy room'?'#800080':'#A52A2A'"},"opacity":{"value":1}}}}}}}}
],"columns":2,"align":"none","spacing":-12.5,
"resolve":{"scale":{"x":"independent","y":"independent","color":"independent"},"legend":{"color":"independent"}}}
],"columns":1,"align":"none","spacing":-21,
"resolve":{"scale":{"x":"independent","y":"independent","color":"independent"},"legend":{"color":"independent"}}},
{"concat":[
{"concat":[
{"width":2,"height":50,"data":{"values":[{"l":"c"}]},"mark":{"type":"text","align":"left","baseline":"alphabetic","font":"Liberation Serif","fontSize":62,"fontWeight":"bold","color":"#000"},"encoding":{"text":{"field":"l","type":"nominal"}}},
{"width":1268,"height":433,
"data":{"name":"c"},
"mark":{"type":"line","color":"#FFA500","strokeWidth":3,"point":{"filled":true,"size":14,"color":"#FFA500"}},
"encoding":{
"x":{"field":"t","type":"quantitative","scale":{"domain":[-18.2,382.2],"nice":false,"zero":false},"axis":{"values":[0,59,120,181,243,304,365],"labelExpr":"timeFormat(datetime(2021,0,1+datum.value),'%m-%d')","title":"Time","titlePadding":4}},
"y":{"field":"v","type":"quantitative","scale":{"domain":[-0.000399,0.00873],"nice":false,"zero":false},"axis":{"values":[0,0.002,0.004,0.006,0.008],"format":".3f","title":"Positive rate"}}}}
],"columns":2,"align":"none","spacing":-3.2,
"resolve":{"scale":{"x":"independent","y":"independent","color":"independent"},"legend":{"color":"independent"}}},
{"concat":[
{"width":2,"height":42.4,"data":{"values":[{"l":"d"}]},"mark":{"type":"text","align":"left","baseline":"alphabetic","font":"Liberation Serif","fontSize":62,"fontWeight":"bold","color":"#000"},"encoding":{"text":{"field":"l","type":"nominal"}}},
{"width":1253,"height":432,
"data":{"name":"d"},
"transform":[{"lookup":"s","from":{"data":{"name":"names"},"key":"s","fields":["n"]}}],
"mark":{"type":"line","strokeWidth":3.2,"point":{"filled":true,"size":20}},
"encoding":{
"x":{"field":"t","type":"quantitative","scale":{"domain":[-18.2,382.2],"nice":false,"zero":false},"axis":{"values":[0,59,120,181,243,304,365],"labelExpr":"timeFormat(datetime(2021,0,1+datum.value),'%m-%d')","title":"Time","titlePadding":0}},
"y":{"field":"v","type":"quantitative","scale":{"domain":[-0.0000189,0.0003907],"nice":false,"zero":false},"axis":{"values":[0,0.0001,0.0002,0.0003],"format":".4f","title":"Infection probability"}},
"color":{"field":"n","type":"nominal","scale":{"domain":["Delivery room","Nursery house","Fattening house","Reserve house","Pregnancy room","Boar breeding station"],"range":["#FFA500","#0000FF","#FF0000","#008000","#800080","#A52A2A"]},
"legend":{"title":null,"orient":"top-right","offset":12,"padding":8,"strokeColor":"#cccccc","fillColor":"rgba(255,255,255,0.8)","cornerRadius":4,"labelFont":"Liberation Serif","labelFontSize":24,"labelColor":"#000","labelLimit":500,"labelOffset":39.6,"symbolOffset":11.3,"rowPadding":10,"symbolType":"M-2.5,0H2.5M-0.4,0A0.4,0.4,0,1,1,0.4,0A0.4,0.4,0,1,1,-0.4,0","symbolSize":400,"symbolStrokeWidth":2.8,
"encode":{"symbols":{"update":{"fill":{"signal":"datum.value=='Delivery room'?'#FFA500':datum.value=='Nursery house'?'#0000FF':datum.value=='Fattening house'?'#FF0000':datum.value=='Reserve house'?'#008000':datum.value=='Pregnancy room'?'#800080':'#A52A2A'"},"stroke":{"signal":"datum.value=='Delivery room'?'#FFA500':datum.value=='Nursery house'?'#0000FF':datum.value=='Fattening house'?'#FF0000':datum.value=='Reserve house'?'#008000':datum.value=='Pregnancy room'?'#800080':'#A52A2A'"},"opacity":{"value":1}}}}}}}}
],"columns":2,"align":"none","spacing":-10.2,
"resolve":{"scale":{"x":"independent","y":"independent","color":"independent"},"legend":{"color":"independent"}}}
],"columns":1,"align":"none","spacing":-30.7,
"resolve":{"scale":{"x":"independent","y":"independent","color":"independent"},"legend":{"color":"independent"}}}
],
"columns":1,"align":"none","spacing":-18.5,
"resolve":{"scale":{"x":"independent","y":"independent","color":"independent"},"legend":{"color":"independent"}}
}
